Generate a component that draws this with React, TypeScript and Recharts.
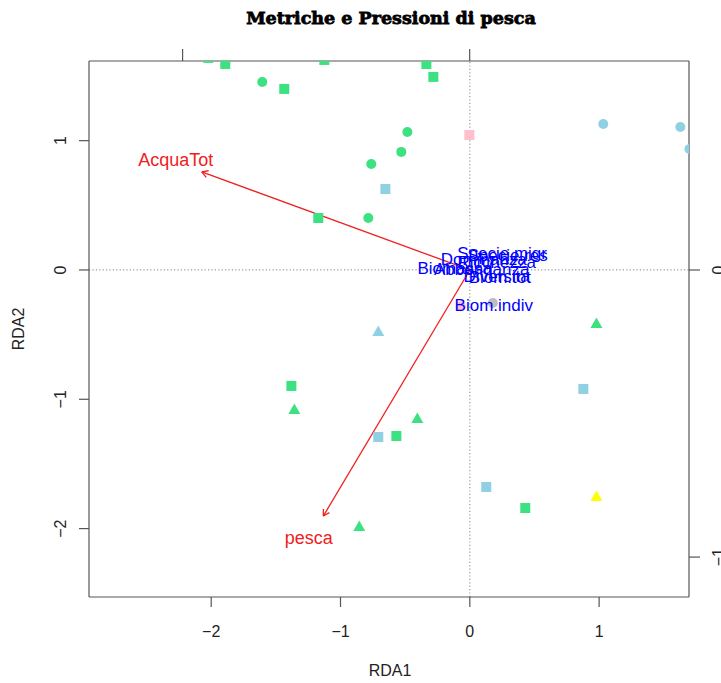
import React from 'react';
import {
  ScatterChart, Scatter, XAxis, YAxis, ReferenceLine, Label,
} from 'recharts';

// ---- site scores (main axes: RDA1 / RDA2) ----
const greenSquares = [
  { x: -2.022, y: 1.64 }, { x: -1.891, y: 1.593 }, { x: -1.125, y: 1.624 },
  { x: -0.336, y: 1.593 }, { x: -0.282, y: 1.493 }, { x: -1.435, y: 1.4 },
  { x: -1.172, y: 0.402 }, { x: -1.38, y: -0.897 }, { x: -0.568, y: -1.284 },
  { x: 0.429, y: -1.841 },
];
const greenCircles = [
  { x: -1.605, y: 1.454 }, { x: -0.483, y: 1.067 }, { x: -0.53, y: 0.913 },
  { x: -0.762, y: 0.82 }, { x: -0.785, y: 0.402 },
];
const greenTriangles = [
  { x: 0.979, y: -0.418 }, { x: -1.357, y: -1.083 }, { x: -0.406, y: -1.152 },
  { x: -0.855, y: -1.988 },
];
const blueCircles = [
  { x: 1.032, y: 1.129 }, { x: 1.628, y: 1.106 }, { x: 1.698, y: 0.936 },
];
const blueSquares = [
  { x: -0.653, y: 0.626 }, { x: 0.878, y: -0.92 }, { x: -0.708, y: -1.292 },
  { x: 0.127, y: -1.678 },
];
const blueTriangles = [{ x: -0.708, y: -0.48 }];
const pinkSquares = [{ x: -0.004, y: 1.044 }];
const pinkCircles = [{ x: -0.07, y: -0.28 }];
const yellowTriangles = [{ x: 0.979, y: -1.756 }];
const greyCircles = [{ x: 0.178, y: -0.255 }];

// ---- species scores (secondary axes: top / right) ----
const speciesLabels = [
  'Specie.migr', 'Specie.res', 'Dominanza', 'Ricchezza', 'Biomassa',
  'Abbondanza', 'Diversita', 'Biom.tot', 'Biom.indiv',
];
const speciesX = [0.113, 0.132, 0.049, 0.094, -0.052, 0.042, 0.094, 0.105, 0.084];
const speciesY = [0.059, 0.052, 0.038, 0.028, 0.007, 0.003, -0.021, -0.024, -0.122];

// ---- biplot arrows (environmental variables) ----
const arrowNames = ['AcquaTot', 'pesca'];
const arrowX = [-2.073, -1.133];
const arrowY = [0.758, -1.903];
const arrowLabelX = [-2.274, -1.245];
const arrowLabelY = [0.851, -2.073];

// ---- axes ----
const mainXTicks = [-2, -1, 0, 1];
const mainYTicks = [-2, -1, 0, 1];
const secXTicks = [-1, 0];
const secYTicks = [-1, 0];
const title = 'Metriche e Pressioni di pesca';

const speciesData = speciesLabels.map((label, i) => ({ label, x: speciesX[i], y: speciesY[i] }));
const arrowLabelData = arrowNames.map((label, i) => ({ label, x: arrowLabelX[i], y: arrowLabelY[i] }));

const GREEN = '#3CE282';
const BLUE = '#8FD1E3';
const FONT = 'Liberation Sans, Arial, Helvetica, sans-serif';
const AXIS = '#555';

const square = (color: string) => (p: any) => (
  <rect x={p.cx - 5} y={p.cy - 5} width={10} height={10} fill={color} />
);
const circle = (color: string) => (p: any) => (
  <circle cx={p.cx} cy={p.cy} r={5} fill={color} />
);
const triangle = (color: string) => (p: any) => (
  <polygon
    points={`${p.cx},${p.cy - 6.5} ${p.cx - 6},${p.cy + 4} ${p.cx + 6},${p.cy + 4}`}
    fill={color}
  />
);
const textShape = (color: string, size: number) => (p: any) => (
  <text x={p.cx} y={p.cy} dy="0.35em" textAnchor="middle" fill={color} fontSize={size} fontFamily={FONT}>
    {p.payload.label}
  </text>
);

const BottomTick = (p: any) => (
  <text x={p.x} y={631} dy="0.36em" textAnchor="middle" fontSize={16} fontFamily={FONT} fill="#222">
    {String(p.payload.value).replace('-', '\u2212')}
  </text>
);
const LeftTick = (p: any) => (
  <text
    x={60} y={p.y} dy="0.36em" textAnchor="middle" fontSize={16} fontFamily={FONT} fill="#222"
    transform={`rotate(-90, 60, ${p.y})`}
  >
    {String(p.payload.value).replace('-', '\u2212')}
  </text>
);
const RightTick = (p: any) => (
  <text
    x={718} y={p.y} dy="0.36em" textAnchor="middle" fontSize={16} fontFamily={FONT} fill="#222"
    transform={`rotate(-90, 718, ${p.y})`}
  >
    {String(p.payload.value).replace('-', '\u2212')}
  </text>
);
const EmptyTick = () => <g />;

const arrowShape = (p: any) => {
  const { x1, y1, x2, y2 } = p;
  const ang = Math.atan2(y2 - y1, x2 - x1);
  const L = 7;
  const a1 = ang + Math.PI - Math.PI / 6;
  const a2 = ang + Math.PI + Math.PI / 6;
  return (
    <g stroke="#F02020" strokeWidth={1.3} fill="none">
      <line x1={x1} y1={y1} x2={x2} y2={y2} />
      <line x1={x2} y1={y2} x2={x2 + L * Math.cos(a1)} y2={y2 + L * Math.sin(a1)} />
      <line x1={x2} y1={y2} x2={x2 + L * Math.cos(a2)} y2={y2 + L * Math.sin(a2)} />
    </g>
  );
};

export default function App() {
  return (
    <div style={{ position: 'absolute', left: 0, top: 0, width: 721, height: 683, background: '#fff' }}>
      <ScatterChart width={721} height={683} margin={{ top: 0, right: 0, bottom: 0, left: 0 }}>
        <XAxis
          xAxisId="main" type="number" dataKey="x" orientation="bottom" height={86}
          domain={[-2.945, 1.695]} ticks={mainXTicks} allowDataOverflow
          stroke={AXIS} strokeWidth={1.2} tickSize={10} tick={BottomTick}
        >
          <Label
            content={() => (
              <text x={390} y={670} dy="0.36em" textAnchor="middle" fontSize={16} fontFamily={FONT} fill="#222">RDA1</text>
            )}
          />
        </XAxis>
        <XAxis
          xAxisId="sec" type="number" dataKey="x" orientation="top" height={61}
          domain={[-1.326, 0.764]} ticks={secXTicks} allowDataOverflow
          stroke={AXIS} strokeWidth={1.2} tickSize={12} tick={EmptyTick}
        >
          <Label
            content={() => (
              <text x={391} y={24} textAnchor="middle" fontSize={17.5} fontWeight="bold"
                fontFamily="DejaVu Serif, serif" fill="#000" stroke="#000" strokeWidth={0.8}>
                {title}
              </text>
            )}
          />
        </XAxis>
        <YAxis
          yAxisId="main" type="number" dataKey="y" orientation="left" width={89}
          domain={[-2.529, 1.616]} ticks={mainYTicks} allowDataOverflow
          stroke={AXIS} strokeWidth={1.2} tickSize={10} tick={LeftTick}
        >
          <Label
            content={() => (
              <text x={18} y={329} dy="0.36em" textAnchor="middle" fontSize={16} fontFamily={FONT} fill="#222"
                transform="rotate(-90, 18, 329)">RDA2</text>
            )}
          />
        </YAxis>
        <YAxis
          yAxisId="sec" type="number" dataKey="y" orientation="right" width={32}
          domain={[-1.139, 0.728]} ticks={secYTicks} allowDataOverflow
          stroke={AXIS} strokeWidth={1.2} tickSize={11} tick={RightTick}
        />

        <ReferenceLine xAxisId="main" yAxisId="main" x={0} stroke="#999" strokeDasharray="1.2 2.2" strokeWidth={1.2} />
        <ReferenceLine xAxisId="main" yAxisId="main" y={0} stroke="#999" strokeDasharray="1.2 2.2" strokeWidth={1.2} />

        <Scatter xAxisId="main" yAxisId="main" data={greenSquares} shape={square(GREEN)} isAnimationActive={false} />
        <Scatter xAxisId="main" yAxisId="main" data={greenCircles} shape={circle(GREEN)} isAnimationActive={false} />
        <Scatter xAxisId="main" yAxisId="main" data={greenTriangles} shape={triangle(GREEN)} isAnimationActive={false} />
        <Scatter xAxisId="main" yAxisId="main" data={blueCircles} shape={circle(BLUE)} isAnimationActive={false} />
        <Scatter xAxisId="main" yAxisId="main" data={blueSquares} shape={square(BLUE)} isAnimationActive={false} />
        <Scatter xAxisId="main" yAxisId="main" data={blueTriangles} shape={triangle(BLUE)} isAnimationActive={false} />
        <Scatter xAxisId="main" yAxisId="main" data={pinkSquares} shape={square('#FFC0CB')} isAnimationActive={false} />
        <Scatter xAxisId="main" yAxisId="main" data={pinkCircles} shape={circle('#FFC0CB')} isAnimationActive={false} />
        <Scatter xAxisId="main" yAxisId="main" data={yellowTriangles} shape={triangle('#FFFF00')} isAnimationActive={false} />
        <Scatter xAxisId="main" yAxisId="main" data={greyCircles} shape={circle('#BEBEBE')} isAnimationActive={false} />

        {arrowNames.map((n, i) => (
          <ReferenceLine
            key={n} xAxisId="main" yAxisId="main"
            segment={[{ x: 0, y: 0 }, { x: arrowX[i], y: arrowY[i] }]}
            shape={arrowShape}
          />
        ))}

        <Scatter xAxisId="sec" yAxisId="sec" data={speciesData} shape={textShape('#0000FF', 17)} isAnimationActive={false} />
        <Scatter xAxisId="main" yAxisId="main" data={arrowLabelData} shape={textShape('#F02020', 18)} isAnimationActive={false} />
      </ScatterChart>
    </div>
  );
}
